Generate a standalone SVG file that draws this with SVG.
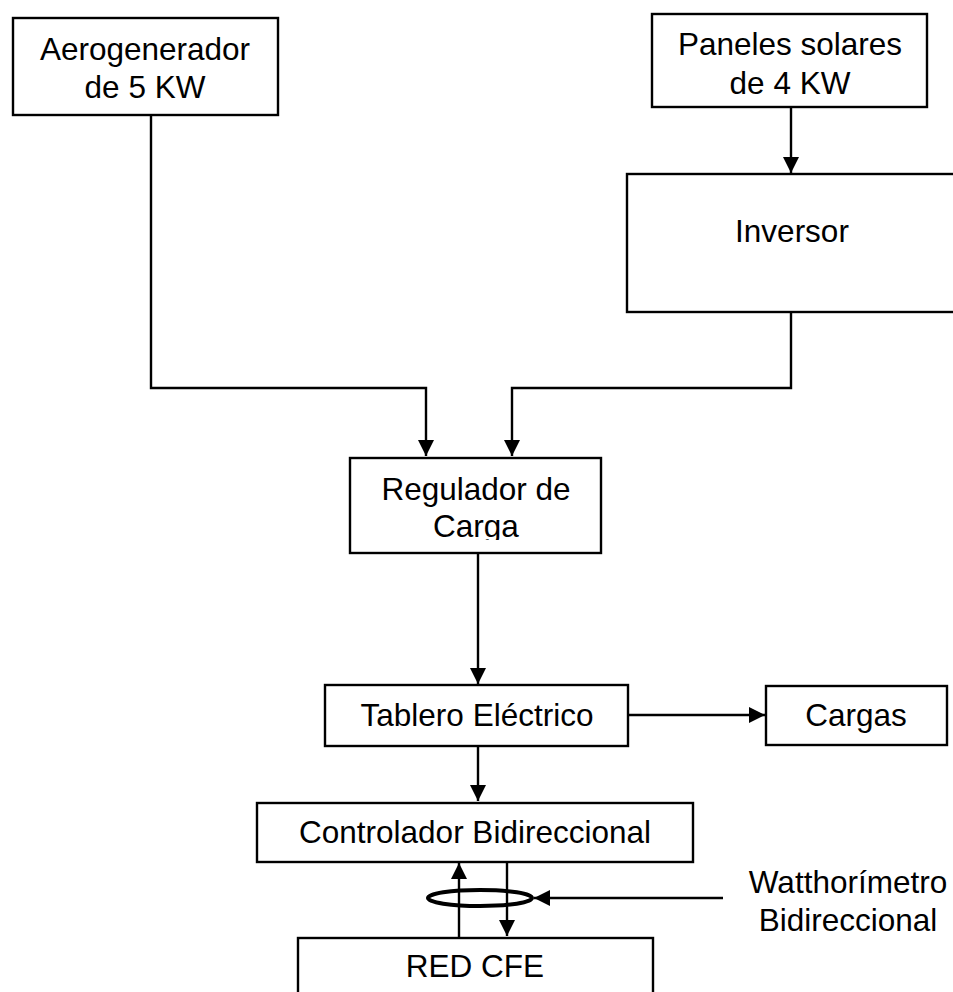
<svg xmlns="http://www.w3.org/2000/svg" width="953" height="992" viewBox="0 0 953 992">
  <style>
    .box { fill: #ffffff; stroke: #000000; stroke-width: 2.4; }
    .lbl { font-family: "Liberation Sans", Arial, sans-serif; font-size: 31.5px; fill: #000000; text-anchor: middle; }
    .wire { fill: none; stroke: #000000; stroke-width: 2.4; }
  </style>
  <defs>
    <marker id="arrowhead" viewBox="0 0 10 10" refX="10" refY="5" markerWidth="16" markerHeight="16" markerUnits="userSpaceOnUse" orient="auto">
      <path d="M0,0 L10,5 L0,10 Z" fill="#000000"/>
    </marker>
    <clipPath id="regClip">
      <rect x="350" y="458" width="252" height="82"/>
    </clipPath>
  </defs>

  <rect width="953" height="992" fill="#ffffff"/>

  <!-- connectors -->
  <g id="connectors">
    <!-- wind turbine to charge regulator -->
    <polyline class="wire" points="151,115 151,388 426,388 426,456" marker-end="url(#arrowhead)"/>
    <!-- panels to inverter -->
    <line class="wire" x1="791" y1="107" x2="791" y2="173" marker-end="url(#arrowhead)"/>
    <!-- inverter to charge regulator -->
    <polyline class="wire" points="791,312 791,388 512,388 512,456" marker-end="url(#arrowhead)"/>
    <!-- regulator to panel board -->
    <line class="wire" x1="478" y1="553" x2="478" y2="684" marker-end="url(#arrowhead)"/>
    <!-- panel board to loads -->
    <line class="wire" x1="628" y1="715" x2="765" y2="715" marker-end="url(#arrowhead)"/>
    <!-- panel board to bidirectional controller -->
    <line class="wire" x1="478" y1="746" x2="478" y2="801" marker-end="url(#arrowhead)"/>
    <!-- grid to controller (up) -->
    <line class="wire" x1="459" y1="938" x2="459" y2="863" marker-end="url(#arrowhead)"/>
    <!-- controller to grid (down) -->
    <line class="wire" x1="507" y1="862" x2="507" y2="936" marker-end="url(#arrowhead)"/>
    <!-- meter pointer -->
    <line class="wire" x1="723" y1="898" x2="534" y2="898" marker-end="url(#arrowhead)"/>
  </g>

  <g id="aerogenerador">
    <rect class="box" x="13" y="18" width="265" height="97"/>
    <text class="lbl" x="145" y="60">Aerogenerador</text>
    <text class="lbl" x="145" y="98">de 5 KW</text>
  </g>

  <g id="paneles">
    <rect class="box" x="652" y="14" width="275" height="93"/>
    <text class="lbl" x="790" y="55">Paneles solares</text>
    <text class="lbl" x="790" y="94">de 4 KW</text>
  </g>

  <g id="inversor">
    <rect class="box" x="627" y="174" width="340" height="138"/>
    <text class="lbl" x="792" y="242">Inversor</text>
  </g>

  <g id="regulador">
    <rect class="box" x="350" y="458" width="251" height="95"/>
    <text class="lbl" x="476" y="500">Regulador de</text>
    <text class="lbl" x="476" y="537" clip-path="url(#regClip)">Carga</text>
  </g>

  <g id="tablero">
    <rect class="box" x="325" y="685" width="303" height="61"/>
    <text class="lbl" x="477" y="726">Tablero Eléctrico</text>
  </g>

  <g id="cargas">
    <rect class="box" x="766" y="686" width="181" height="59"/>
    <text class="lbl" x="856" y="726">Cargas</text>
  </g>

  <g id="controlador">
    <rect class="box" x="257" y="803" width="436" height="59"/>
    <text class="lbl" x="475" y="843">Controlador Bidireccional</text>
  </g>

  <g id="watthorimetro">
    <ellipse cx="480" cy="898" rx="52" ry="8" fill="none" stroke="#000000" stroke-width="4"/>
    <text class="lbl" x="848" y="893">Watthorímetro</text>
    <text class="lbl" x="848" y="931">Bidireccional</text>
  </g>

  <g id="red-cfe">
    <rect class="box" x="298" y="938" width="355" height="70"/>
    <text class="lbl" x="475" y="977">RED CFE</text>
  </g>
</svg>
